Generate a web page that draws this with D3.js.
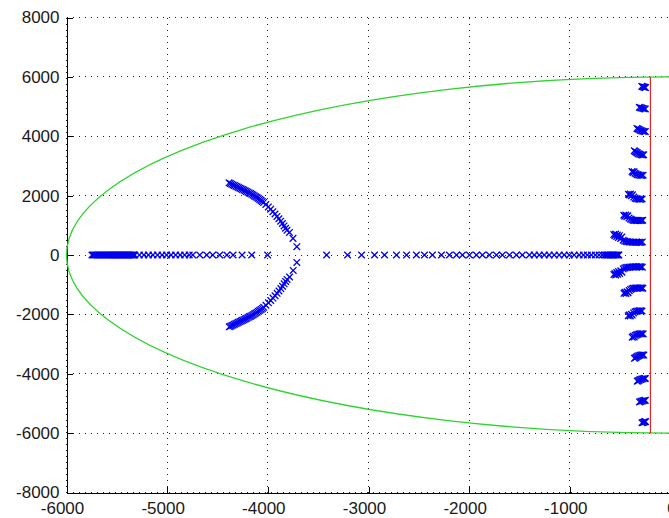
<!DOCTYPE html>
<html>
<head>
<meta charset="utf-8">
<script src="https://cdn.jsdelivr.net/npm/d3@7"></script>
<style>
  html, body { margin: 0; padding: 0; background: #fff; }
  svg { display: block; }
</style>
</head>
<body>
<svg id="chart" width="669" height="518"></svg>
<script>
// Axis ticks and labels
const xTicks = [-6000, -5000, -4000, -3000, -2000, -1000, 0];
const xTickLabels = ["-6000", "-5000", "-4000", "-3000", "-2000", "-1000", "0"];
const yTicks = [-8000, -6000, -4000, -2000, 0, 2000, 4000, 6000, 8000];
const yTickLabels = ["-8000", "-6000", "-4000", "-2000", "0", "2000", "4000", "6000", "8000"];

// Design bounds: natural-frequency circle radius and minimum decay rate line
const wnLimit = 6000;
const sigmaLimit = -200;

// Real poles (imaginary part 0)
const realPoles = [
  -5747, -5737, -5727, -5715, -5702, -5690, -5678, -5665, -5653, -5640, -5628, -5615,
  -5603, -5591, -5579, -5569, -5559, -5549, -5539, -5529, -5519, -5509, -5499, -5489,
  -5479, -5469, -5459, -5449, -5440, -5430, -5420, -5410, -5400, -5390, -5380, -5370,
  -5360, -5350, -5340, -5330, -5321,
  -5276, -5231, -5186, -5141, -5096, -5051, -5006, -4961, -4916, -4871, -4826, -4781, -4745,
  -4676, -4607, -4547, -4478, -4407, -4345, -4256, -4160, -4002,
  -3416, -3208, -3069, -2940, -2841, -2722, -2622, -2524, -2444, -2365, -2275, -2196,
  -2126, -2067, -1997, -1928, -1868, -1799, -1729, -1670, -1600, -1531, -1472, -1402,
  -1353, -1304, -1254, -1205, -1155, -1106, -1056, -1006, -957, -907,
  -865, -826, -786, -746, -710, -676,
  -652, -640, -628, -616, -604, -592, -580, -568, -556, -544, -532, -520, -513
];

// Complex branch, upper half-plane [re, im]
const branchUpper = [
  [-4385, 2430], [-4372, 2408], [-4358, 2385], [-4345, 2362], [-4332, 2340], [-4318, 2318],
  [-4305, 2296], [-4292, 2274], [-4278, 2252], [-4265, 2230], [-4252, 2208], [-4238, 2186],
  [-4225, 2163], [-4212, 2140], [-4198, 2116], [-4185, 2092], [-4172, 2068], [-4159, 2043],
  [-4146, 2017], [-4133, 1990], [-4120, 1962], [-4107, 1933], [-4094, 1903], [-4081, 1872],
  [-4068, 1840], [-4055, 1806], [-4042, 1771], [-4020, 1700], [-3995, 1620], [-3972, 1540],
  [-3950, 1460], [-3929, 1380], [-3909, 1300], [-3890, 1220], [-3872, 1140], [-3855, 1060],
  [-3839, 980], [-3824, 900], [-3810, 830], [-3785, 760], [-3750, 560], [-3712, 280]
];

// Complex branch, lower half-plane [re, im]
const branchLower = [
  [-4383, -2420], [-4370, -2398], [-4357, -2376], [-4344, -2354], [-4331, -2332], [-4317, -2310],
  [-4304, -2288], [-4291, -2266], [-4277, -2244], [-4264, -2222], [-4251, -2200], [-4237, -2178],
  [-4224, -2155], [-4211, -2132], [-4197, -2108], [-4184, -2084], [-4171, -2060], [-4158, -2035],
  [-4145, -2009], [-4132, -1982], [-4119, -1954], [-4106, -1925], [-4093, -1895], [-4080, -1864],
  [-4067, -1832], [-4054, -1798], [-4041, -1763], [-4019, -1692], [-3994, -1612], [-3971, -1532],
  [-3949, -1452], [-3928, -1372], [-3908, -1292], [-3889, -1212], [-3871, -1132], [-3854, -1052],
  [-3838, -972], [-3823, -892], [-3809, -822], [-3784, -740], [-3748, -520], [-3712, -250]
];

// Lightly damped poles near the imaginary axis, upper half-plane
const clusterUpper = [
  [-285, 5680], [-275, 5668], [-266, 5660], [-257, 5648], [-248, 5640],
  [-310, 4975], [-298, 4962], [-286, 4950], [-274, 4938], [-262, 4928], [-250, 4922],
  [-333, 4265], [-323, 4245], [-312, 4225], [-300, 4205], [-288, 4185], [-275, 4170], [-262, 4160], [-250, 4158],
  [-360, 3515], [-350, 3490], [-340, 3465], [-330, 3440], [-318, 3410], [-305, 3390], [-292, 3378], [-278, 3372], [-266, 3375],
  [-382, 2810], [-372, 2780], [-362, 2805], [-352, 2755], [-340, 2725], [-327, 2705], [-313, 2692], [-299, 2685], [-285, 2680], [-272, 2688],
  [-418, 2050], [-408, 2020], [-398, 2055], [-388, 1995], [-378, 2030], [-366, 1950], [-352, 1915], [-338, 1895],
  [-324, 1885], [-310, 1880], [-296, 1878], [-282, 1885],
  [-464, 1340], [-454, 1305], [-444, 1345], [-434, 1290], [-424, 1320], [-412, 1250], [-398, 1210], [-384, 1185],
  [-370, 1170], [-356, 1165], [-342, 1162], [-328, 1160], [-314, 1160], [-300, 1162], [-288, 1160], [-276, 1170],
  [-563, 690], [-553, 650], [-545, 705], [-535, 620], [-527, 675], [-517, 590], [-507, 650], [-495, 560],
  [-483, 610], [-470, 500], [-455, 470], [-440, 455], [-425, 445], [-410, 440], [-395, 435], [-380, 432],
  [-365, 430], [-350, 430], [-335, 428], [-320, 428], [-305, 430], [-292, 425], [-280, 440]
];

// Lightly damped poles near the imaginary axis, lower half-plane
const clusterLower = [
  [-283, -5650], [-273, -5638], [-263, -5628], [-255, -5618], [-248, -5610],
  [-308, -4950], [-296, -4935], [-284, -4922], [-272, -4910], [-260, -4900], [-250, -4895],
  [-330, -4250], [-320, -4232], [-309, -4214], [-297, -4196], [-285, -4180], [-273, -4170], [-260, -4163], [-250, -4160],
  [-358, -3480], [-348, -3458], [-338, -3436], [-327, -3414], [-315, -3392], [-302, -3378], [-289, -3370], [-276, -3366], [-265, -3370],
  [-380, -2770], [-370, -2740], [-360, -2765], [-350, -2715], [-338, -2690], [-325, -2672], [-311, -2660], [-297, -2654], [-283, -2650], [-271, -2658],
  [-420, -2050], [-410, -2018], [-400, -2052], [-390, -1992], [-380, -2025], [-367, -1950], [-353, -1915], [-339, -1895],
  [-325, -1885], [-311, -1880], [-297, -1878], [-283, -1885],
  [-462, -1290], [-452, -1255], [-442, -1295], [-432, -1240], [-422, -1270], [-410, -1200], [-396, -1160], [-382, -1135],
  [-368, -1120], [-354, -1115], [-340, -1112], [-326, -1110], [-312, -1110], [-298, -1112], [-286, -1110], [-275, -1120],
  [-562, -660], [-552, -620], [-544, -675], [-534, -590], [-526, -645], [-516, -560], [-506, -620], [-494, -530],
  [-482, -580], [-470, -470], [-455, -440], [-440, -425], [-425, -415], [-410, -410], [-395, -405], [-380, -402],
  [-365, -400], [-350, -400], [-335, -398], [-320, -398], [-305, -400], [-292, -395], [-280, -410]
];

const svg = d3.select("#chart");
const FONT = "'Liberation Sans', Arial, Helvetica, sans-serif";

const x = d3.scaleLinear().domain([-6000, 0]).range([66.5, 670.5]);
const y = d3.scaleLinear().domain([-8000, 8000]).range([492.5, 17.5]);

svg.append("rect").attr("width", 669).attr("height", 518).attr("fill", "#fff");

// Dotted grid
const grid = svg.append("g")
  .attr("stroke", "#222")
  .attr("stroke-width", 1)
  .attr("stroke-dasharray", "1,5")
  .attr("shape-rendering", "crispEdges");
grid.selectAll("line.gx").data(xTicks).join("line")
  .attr("class", "gx")
  .attr("x1", d => x(d)).attr("x2", d => x(d))
  .attr("y1", y(8000)).attr("y2", y(-8000));
grid.selectAll("line.gy").data(yTicks).join("line")
  .attr("class", "gy")
  .attr("x1", x(-6000)).attr("x2", x(0))
  .attr("y1", d => y(d)).attr("y2", d => y(d));

// Axes with inward ticks
const xAxis = d3.axisBottom(x)
  .tickValues(xTicks)
  .tickFormat((d, i) => xTickLabels[i])
  .tickSizeInner(-6).tickSizeOuter(0).tickPadding(9);
const yAxis = d3.axisLeft(y)
  .tickValues(yTicks)
  .tickFormat((d, i) => yTickLabels[i])
  .tickSizeInner(-6).tickSizeOuter(0).tickPadding(7);

const gx = svg.append("g")
  .attr("transform", `translate(0,${y(-8000)})`)
  .attr("color", "#000")
  .attr("shape-rendering", "crispEdges")
  .call(xAxis);
gx.selectAll("text")
  .attr("font-family", FONT).attr("font-size", 17).attr("fill", "#1a1a1a")
  .attr("dx", (d, i) => xTickLabels[i].startsWith("-") ? -4.5 : 1);

const gy = svg.append("g")
  .attr("transform", `translate(${x(-6000)},0)`)
  .attr("color", "#000")
  .attr("shape-rendering", "crispEdges")
  .call(yAxis);
gy.selectAll("text")
  .attr("font-family", FONT).attr("font-size", 17).attr("fill", "#1a1a1a");

// Pole markers
const marker = d3.symbol(d3.symbolX, 30);
const poles = []
  .concat(realPoles.map(re => [re, 0]))
  .concat(branchUpper, branchLower, clusterUpper, clusterLower);

svg.append("g")
  .attr("fill", "none")
  .attr("stroke", "#0000f0")
  .attr("stroke-width", 1.3)
  .selectAll("path").data(poles).join("path")
  .attr("transform", d => `translate(${x(d[0])},${y(d[1])})`)
  .attr("d", marker);

// Natural-frequency bound (circle of radius wnLimit in the s-plane)
svg.append("ellipse")
  .attr("cx", x(0)).attr("cy", y(0))
  .attr("rx", x(0) - x(-wnLimit))
  .attr("ry", y(-wnLimit) - y(0))
  .attr("fill", "none")
  .attr("stroke", "#2ed32e")
  .attr("stroke-width", 1.3);

// Minimum decay-rate bound
svg.append("line")
  .attr("x1", x(sigmaLimit)).attr("x2", x(sigmaLimit))
  .attr("y1", y(wnLimit)).attr("y2", y(-wnLimit))
  .attr("stroke", "#e00000")
  .attr("stroke-width", 1);
</script>
</body>
</html>
